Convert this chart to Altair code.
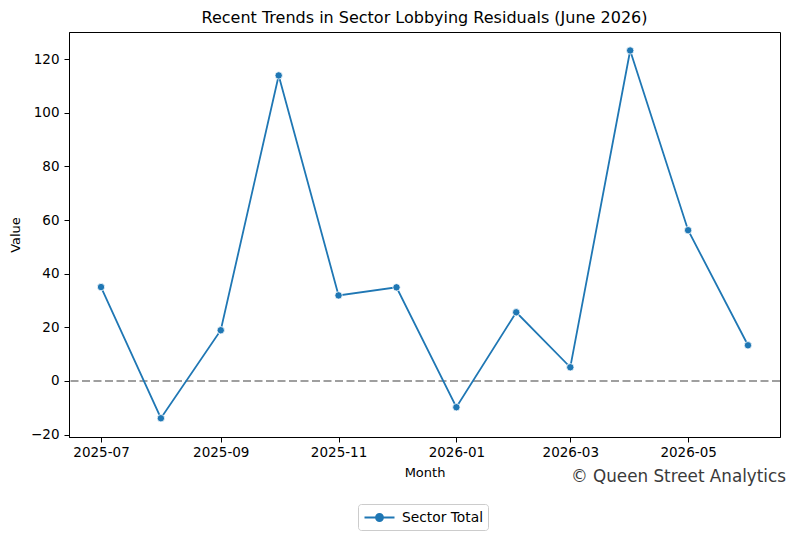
import altair as alt
import pandas as pd

months = ["2025-07-01", "2025-08-01", "2025-09-01", "2025-10-01", "2025-11-01", "2025-12-01",
          "2026-01-01", "2026-02-01", "2026-03-01", "2026-04-01", "2026-05-01", "2026-06-01"]
values = [35.0, -13.9, 18.9, 113.9, 31.9, 34.9, -9.8, 25.6, 5.1, 123.2, 56.2, 13.3]
series = ["Sector Total"] * len(months)
y_ticks = [-20, 0, 20, 40, 60, 80, 100, 120]
x_ticks = [(2025, 7), (2025, 9), (2025, 11), (2026, 1), (2026, 3), (2026, 5)]

df = pd.DataFrame({"Month": months, "Value": values, "Series": series})

FONT = "DejaVu Sans"
BLUE = "#1f77b4"
Y_DOMAIN = [-20.9, 130.1]

x_axis = alt.Axis(
    values=[alt.DateTime(year=y, month=m, date=1, utc=True) for y, m in x_ticks],
    format="%Y-%m",
    grid=False, tickSize=5, tickColor="black", domainColor="black",
    labelPadding=3, labelFontSize=13.5, labelColor="black",
    titleFontSize=13, titleFontWeight="normal", titleColor="black", titlePadding=8,
    labelFont=FONT, titleFont=FONT,
)
y_axis = alt.Axis(
    values=y_ticks, grid=False, tickSize=5, tickColor="black", domainColor="black",
    labelPadding=5, labelFontSize=13.5, labelColor="black",
    titleFontSize=13, titleFontWeight="normal", titleColor="black", titlePadding=8,
    labelFont=FONT, titleFont=FONT,
)
y_scale = alt.Scale(domain=Y_DOMAIN, nice=False, zero=False)

x_enc = alt.X(
    "Month:T",
    title="Month",
    scale=alt.Scale(
        type="utc",
        domain=[alt.DateTime(year=2025, month=6, date=14, hours=10, utc=True),
                alt.DateTime(year=2026, month=6, date=17, hours=14, utc=True)],
        nice=False,
    ),
    axis=x_axis,
)
y_enc = alt.Y("Value:Q", title="Value", scale=y_scale, axis=y_axis)

base = alt.Chart(df)

zero = alt.Chart(pd.DataFrame({"z": [0]})).mark_rule(
    color="#808080", strokeWidth=1.5, strokeDash=[8, 3.5]
).encode(y=alt.Y("z:Q", title="Value", scale=y_scale, axis=y_axis))

line = base.mark_line(strokeWidth=1.8).encode(
    x=x_enc, y=y_enc,
    color=alt.Color(
        "Series:N",
        scale=alt.Scale(domain=["Sector Total"], range=[BLUE]),
        legend=alt.Legend(
            title=None, orient="none", legendX=289, legendY=472,
            symbolType="M-2,0H2M-0.47,0A0.47,0.47,0,1,1,0.47,0A0.47,0.47,0,1,1,-0.47,0Z",
            symbolSize=225, symbolStrokeWidth=1.8, symbolFillColor=BLUE, symbolStrokeColor=BLUE,
            symbolOffset=8,
            labelFontSize=13.8, labelFont=FONT, labelColor="black",
            strokeColor="#cccccc", fillColor="white", padding=5, cornerRadius=3,
            labelOffset=14,
        ),
    ),
)

points = base.mark_point(filled=True, size=55, color=BLUE, opacity=1,
                         stroke="white", strokeWidth=0.8).encode(x=x_enc, y=y_enc)

wm = alt.Chart(pd.DataFrame({"t": ["© Queen Street Analytics"]})).mark_text(
    align="right", baseline="middle", fontSize=16.8, font=FONT, color="#3a3a3a"
).encode(x=alt.value(717), y=alt.value(445), text="t:N")

chart = alt.layer(zero, line, points, wm).properties(
    width=711, height=405,
    title=alt.TitleParams(
        "Recent Trends in Sector Lobbying Residuals (June 2026)",
        fontSize=16, font=FONT, fontWeight="normal", color="black",
        anchor="middle", offset=6,
    ),
    autosize=alt.AutoSizeParams(type="none"),
    padding={"left": 61, "top": 24, "right": 8, "bottom": 94},
).configure_view(stroke="black", strokeWidth=1)

chart.save("out.html", embed_options={"renderer": "svg", "actions": False})
